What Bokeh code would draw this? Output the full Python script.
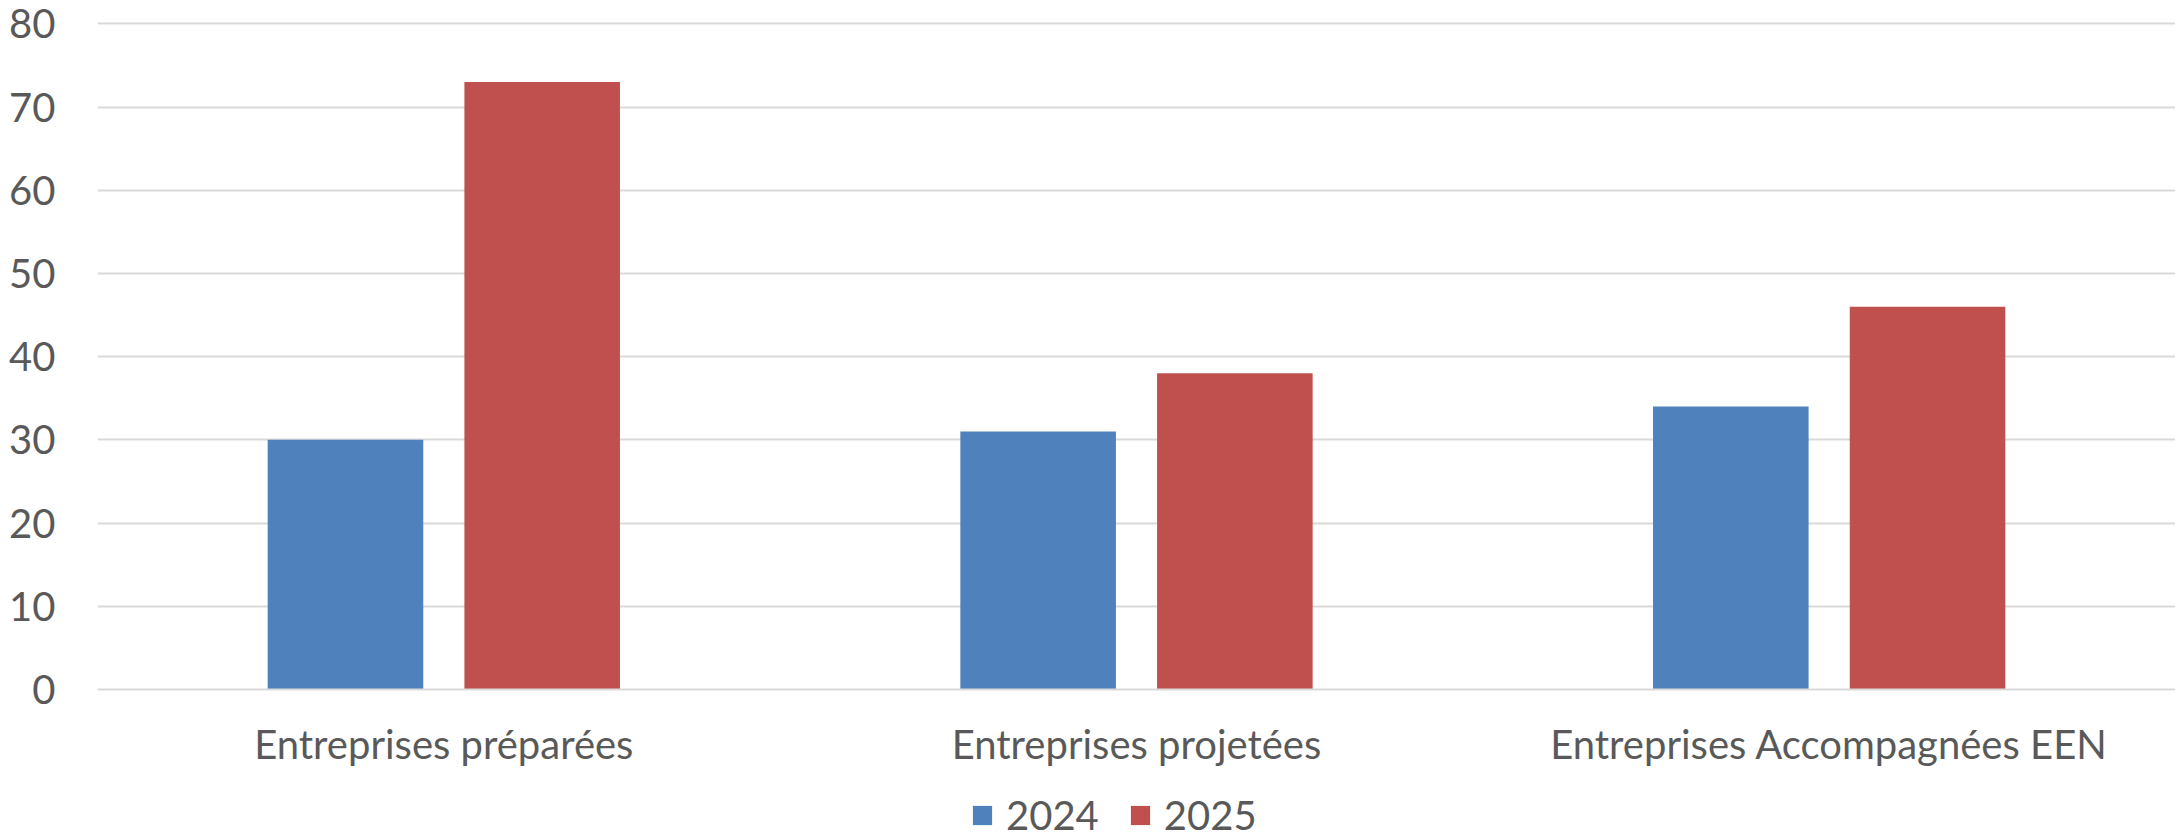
from bokeh.plotting import figure
from bokeh.layouts import column
from bokeh.models import FactorRange, Range1d, FixedTicker, Legend, LegendItem, ColumnDataSource
from bokeh.transform import dodge
from bokeh.embed import file_html
from bokeh.resources import INLINE

categories = ["Entreprises préparées", "Entreprises projetées", "Entreprises Accompagnées EEN"]
series_names = ["2024", "2025"]
values_2024 = [30, 31, 34]
values_2025 = [73, 38, 46]
y_ticks = [0, 10, 20, 30, 40, 50, 60, 70, 80]

colors = ["#4F81BD", "#C0504D"]
FONT = "Lato"
TXT = "#595959"
FS = "40px"

src = ColumnDataSource(dict(cat=categories, v2024=values_2024, v2025=values_2025))
xr = FactorRange(*categories)

p = figure(width=2175, height=770, output_backend="svg", toolbar_location=None,
           x_range=xr, y_range=Range1d(0, 80.4),
           min_border_left=97, min_border_right=0, min_border_top=20, min_border_bottom=72)
p.outline_line_color = None
p.background_fill_color = "white"
p.border_fill_color = "white"

p.vbar(x=dodge("cat", -0.142, range=xr), top="v2024", width=0.2246,
       source=src, fill_color=colors[0], line_color=None)
p.vbar(x=dodge("cat", 0.142, range=xr), top="v2025", width=0.2246,
       source=src, fill_color=colors[1], line_color=None)

p.xgrid.grid_line_color = None
p.ygrid.grid_line_color = "#d9d9d9"
p.ygrid.grid_line_width = 2
p.yaxis.ticker = FixedTicker(ticks=y_ticks)

for ax in (p.xaxis[0], p.yaxis[0]):
    ax.major_tick_line_color = None
    ax.minor_tick_line_color = None
    ax.major_label_text_font = FONT
    ax.major_label_text_font_size = FS
    ax.major_label_text_color = TXT
p.yaxis.axis_line_color = None
p.yaxis.major_label_standoff = 36
p.xaxis.axis_line_color = "#d9d9d9"
p.xaxis.axis_line_width = 2
p.xaxis.major_label_standoff = 24

# legend strip below the chart (same series, drawn far outside its visible y range)
lg = figure(width=2175, height=69, output_backend="svg", toolbar_location=None,
            x_range=xr, y_range=Range1d(1000, 1001),
            min_border_left=97, min_border_right=0, min_border_top=0, min_border_bottom=0)
lg.axis.visible = False
lg.grid.visible = False
lg.outline_line_color = None
lg.border_fill_color = "white"
lg.background_fill_color = "white"
k1 = lg.vbar(x=dodge("cat", -0.142, range=xr), top="v2024", width=0.2246,
             source=src, fill_color=colors[0], line_color=None)
k2 = lg.vbar(x=dodge("cat", 0.142, range=xr), top="v2025", width=0.2246,
             source=src, fill_color=colors[1], line_color=None)

legend = Legend(items=[LegendItem(label=series_names[0], renderers=[k1]),
                       LegendItem(label=series_names[1], renderers=[k2])],
                orientation="horizontal", location=(873, 0),
                label_text_font=FONT, label_text_font_size=FS, label_text_color=TXT,
                glyph_width=24, glyph_height=24, label_standoff=12, spacing=29,
                border_line_color=None, background_fill_color=None, background_fill_alpha=0,
                padding=0, margin=0)
lg.add_layout(legend, "center")

layout = column(p, lg, spacing=0)
open("out.html", "w").write(file_html(layout, INLINE))
